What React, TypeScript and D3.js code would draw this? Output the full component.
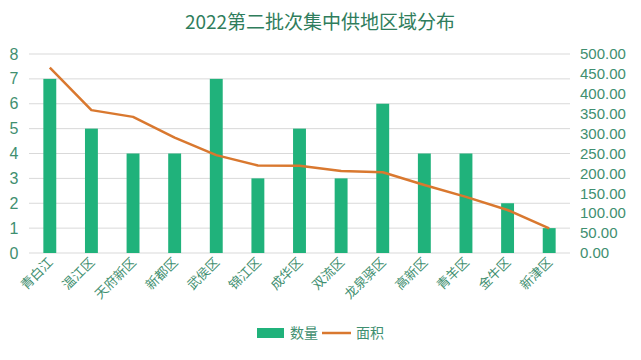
import React, {useEffect, useRef} from 'react';
import * as d3 from 'd3';

// 2022 second batch land supply by district
const districts = ['青白江', '温江区', '天府新区', '新都区', '武侯区', '锦江区', '成华区', '双流区', '龙泉驿区', '高新区', '青羊区', '金牛区', '新津区'];
const counts = [7, 5, 4, 4, 7, 3, 5, 3, 6, 4, 4, 2, 1];
const areas = [466, 359, 342, 290, 246, 220, 219, 206, 203, 171, 141, 108, 62];
const leftTicks = [0, 1, 2, 3, 4, 5, 6, 7, 8];
const rightTicks = [0, 50, 100, 150, 200, 250, 300, 350, 400, 450, 500];

const width = 641;
const height = 360;
const barColor = '#20b27b';
const lineColor = '#d9782f';
const textColor = '#3f8f70';
const numFont = '"Liberation Sans", Arial, sans-serif';

function App() {
    const ref = useRef<SVGSVGElement>(null);

    useEffect(() => {
        const svg = d3.select(ref.current);
        svg.selectAll('*').remove();

        const margin = {top: 54, right: 71, bottom: 107, left: 29};
        const x = d3.scaleBand()
            .domain(districts)
            .range([margin.left, width - margin.right])
            .paddingInner(0.69)
            .paddingOuter(0.345);
        const yL = d3.scaleLinear().domain([0, 8]).range([height - margin.bottom, margin.top]);
        const yR = d3.scaleLinear().domain([0, 500]).range([height - margin.bottom, margin.top]);

        // title
        svg.append('text')
            .attr('x', 320)
            .attr('y', 29)
            .attr('text-anchor', 'middle')
            .attr('font-size', 19)
            .attr('fill', '#2f7d5c')
            .text('2022第二批次集中供地区域分布');

        // grid
        svg.append('g')
            .selectAll('line')
            .data(leftTicks)
            .enter()
            .append('line')
            .attr('x1', margin.left)
            .attr('x2', width - margin.right)
            .attr('y1', d => yL(d))
            .attr('y2', d => yL(d))
            .attr('stroke', '#d9d9d9')
            .attr('stroke-width', 1);

        // left axis labels
        svg.append('g')
            .selectAll('text')
            .data(leftTicks)
            .enter()
            .append('text')
            .attr('x', 14)
            .attr('y', d => yL(d))
            .attr('dy', '0.35em')
            .attr('text-anchor', 'middle')
            .attr('font-size', 16)
            .attr('font-family', numFont)
            .attr('fill', textColor)
            .text(d => d);

        // right axis labels
        svg.append('g')
            .selectAll('text')
            .data(rightTicks)
            .enter()
            .append('text')
            .attr('x', 580)
            .attr('y', d => yR(d))
            .attr('dy', '0.35em')
            .attr('font-size', 15)
            .attr('font-family', numFont)
            .attr('fill', textColor)
            .text(d => d3.format('.2f')(d));

        // bars
        svg.append('g')
            .selectAll('rect')
            .data(counts)
            .enter()
            .append('rect')
            .attr('x', (_, i) => x(districts[i]))
            .attr('y', d => yL(d))
            .attr('width', x.bandwidth())
            .attr('height', d => yL(0) - yL(d))
            .attr('fill', barColor);

        // line
        const line = d3.line<number>()
            .x((_, i) => x(districts[i]) + x.bandwidth() / 2)
            .y(d => yR(d));
        svg.append('path')
            .datum(areas)
            .attr('d', line)
            .attr('fill', 'none')
            .attr('stroke', lineColor)
            .attr('stroke-width', 2.5)
            .attr('stroke-linejoin', 'round');

        // x labels
        svg.append('g')
            .selectAll('text')
            .data(districts)
            .enter()
            .append('text')
            .attr('text-anchor', 'end')
            .attr('font-size', 13)
            .attr('fill', textColor)
            .attr('transform', d => `translate(${x(d) + x.bandwidth() / 2 + 4}, ${yL(0) + 10}) rotate(-45)`)
            .text(d => d);

        // legend
        const lg = svg.append('g').attr('transform', 'translate(257, 333)');
        lg.append('rect').attr('x', 0).attr('y', -5).attr('width', 27).attr('height', 10).attr('fill', barColor);
        lg.append('text').attr('x', 33).attr('y', 0).attr('dy', '0.35em').attr('font-size', 14).attr('fill', textColor).text('数量');
        lg.append('line').attr('x1', 65).attr('x2', 94).attr('y1', 0).attr('y2', 0).attr('stroke', lineColor).attr('stroke-width', 2.5);
        lg.append('text').attr('x', 99).attr('y', 0).attr('dy', '0.35em').attr('font-size', 14).attr('fill', textColor).text('面积');
    }, []);

    return (
        <svg ref={ref} width={width} height={height}
             style={{position: 'absolute', left: 0, top: 0, background: '#fff', fontFamily: '"Noto Sans CJK SC", "Noto Sans", sans-serif'}}/>
    );
}

export default App;
